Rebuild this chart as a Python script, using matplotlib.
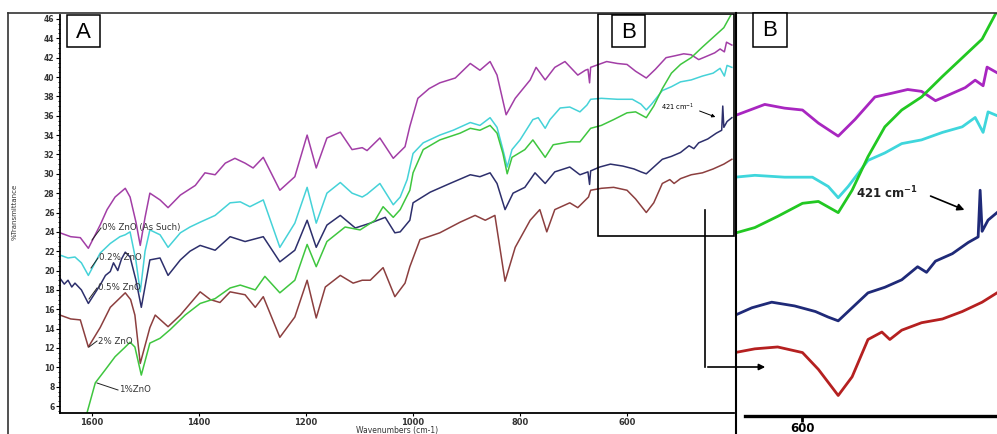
import numpy as np
import matplotlib
matplotlib.use('Agg')
import matplotlib.pyplot as plt
from matplotlib.lines import Line2D
from matplotlib.patches import Rectangle, FancyArrowPatch
from matplotlib.ticker import MultipleLocator

# FTIR spectra: (wavenumber cm-1, %T)
zno_0 = [(1660, 23.9), (1640, 23.5), (1622, 23.4), (1607, 22.3), (1585, 24.7), (1572, 26.3),
         (1557, 27.6), (1538, 28.5), (1529, 27.6), (1518, 25.0), (1510, 22.6), (1501, 25.5),
         (1492, 28.0), (1473, 27.3), (1458, 26.5), (1435, 27.8), (1407, 28.8), (1389, 30.1),
         (1370, 29.9), (1351, 31.1), (1333, 31.6), (1314, 31.1), (1299, 30.6), (1280, 31.7),
         (1249, 28.3), (1221, 29.7), (1198, 34.0), (1181, 30.6), (1161, 33.7), (1136, 34.3),
         (1114, 32.5), (1095, 32.7), (1086, 32.4), (1062, 33.7), (1037, 31.6), (1015, 32.8),
         (1006, 34.9), (991, 37.8), (970, 38.8), (950, 39.4), (921, 39.9), (893, 41.4),
         (875, 40.7), (856, 41.6), (843, 40.2), (826, 36.1), (809, 37.8), (781, 39.7),
         (770, 41.0), (753, 39.7), (735, 41.0), (716, 41.6), (692, 40.2), (678, 40.7),
         (673, 40.8), (670, 39.4), (668, 41.0), (638, 41.6), (618, 41.4), (600, 41.3),
         (584, 40.6), (564, 39.9), (547, 40.8), (527, 42.0), (510, 42.2), (494, 42.4),
         (480, 42.3), (466, 41.8), (453, 42.1), (436, 42.5), (426, 42.9), (418, 42.6),
         (414, 43.6), (404, 43.3)]

zno_02 = [(1660, 21.6), (1645, 21.3), (1632, 21.4), (1620, 20.8), (1607, 19.5), (1585, 21.8),
          (1566, 22.8), (1548, 23.5), (1538, 23.7), (1529, 24.0), (1518, 21.0), (1510, 17.8),
          (1501, 22.0), (1492, 24.2), (1473, 23.7), (1458, 22.4), (1435, 23.9), (1417, 24.5),
          (1398, 25.0), (1370, 25.7), (1342, 27.0), (1323, 27.1), (1305, 26.6), (1280, 27.3),
          (1249, 22.4), (1221, 24.9), (1198, 28.6), (1181, 24.9), (1161, 28.0), (1136, 29.1),
          (1114, 28.0), (1095, 27.6), (1086, 27.9), (1062, 29.0), (1037, 26.8), (1024, 27.6),
          (1011, 29.4), (1000, 32.1), (981, 33.2), (950, 34.0), (925, 34.5), (893, 35.3),
          (875, 35.0), (856, 35.8), (843, 34.8), (832, 32.5), (824, 30.7), (815, 32.5),
          (800, 33.5), (776, 35.6), (766, 35.8), (753, 34.7), (744, 35.6), (725, 36.8),
          (707, 36.9), (688, 36.4), (675, 37.1), (668, 37.7), (648, 37.8), (618, 37.7),
          (590, 37.7), (574, 37.2), (564, 36.6), (554, 37.2), (534, 38.6), (517, 39.0),
          (500, 39.5), (480, 39.7), (459, 40.1), (439, 40.4), (426, 40.9), (418, 40.1),
          (413, 41.2), (404, 41.0)]

zno_05 = [(1660, 19.2), (1652, 18.6), (1645, 19.0), (1638, 18.3), (1632, 18.7), (1620, 18.0),
          (1607, 16.6), (1585, 18.5), (1575, 19.5), (1566, 19.9), (1560, 20.8), (1552, 20.0),
          (1545, 21.2), (1538, 21.9), (1529, 21.4), (1518, 19.0), (1508, 16.2), (1492, 21.1),
          (1473, 21.3), (1458, 19.5), (1435, 21.1), (1417, 22.0), (1398, 22.6), (1370, 22.1),
          (1342, 23.5), (1314, 23.0), (1280, 23.5), (1249, 20.9), (1221, 22.1), (1198, 25.2),
          (1181, 22.4), (1161, 24.7), (1136, 25.7), (1108, 24.4), (1080, 24.9), (1052, 25.5),
          (1034, 23.9), (1024, 24.0), (1006, 25.2), (1000, 27.0), (968, 28.1), (931, 29.0),
          (893, 29.9), (875, 29.7), (856, 30.1), (843, 29.0), (828, 26.3), (813, 28.0),
          (791, 28.6), (772, 30.1), (753, 29.0), (735, 30.2), (707, 30.7), (688, 29.9),
          (673, 30.2), (670, 28.9), (668, 30.3), (651, 30.7), (631, 31.0), (608, 30.8),
          (587, 30.5), (574, 30.2), (564, 30.0), (550, 30.7), (534, 31.5), (517, 31.8),
          (500, 32.2), (484, 32.9), (475, 32.6), (466, 33.2), (449, 33.6), (433, 34.2),
          (423, 34.5), (421, 37.0), (419, 34.8), (413, 35.4), (404, 35.8)]

zno_2 = [(1660, 15.4), (1640, 15.0), (1622, 14.9), (1607, 12.1), (1585, 14.1), (1566, 16.2),
         (1538, 17.7), (1528, 17.0), (1520, 15.4), (1510, 10.4), (1492, 14.1), (1482, 15.4),
         (1458, 14.2), (1435, 15.4), (1398, 17.8), (1379, 17.0), (1361, 16.7), (1342, 17.8),
         (1314, 17.5), (1295, 16.2), (1280, 17.3), (1249, 13.1), (1221, 15.2), (1198, 19.0),
         (1181, 15.1), (1164, 18.3), (1136, 19.5), (1112, 18.7), (1095, 19.0), (1080, 19.0),
         (1056, 20.3), (1034, 17.3), (1015, 18.7), (1006, 20.4), (987, 23.2), (950, 23.9),
         (912, 25.0), (884, 25.7), (865, 25.2), (847, 25.7), (828, 18.9), (809, 22.4),
         (781, 25.2), (763, 26.3), (750, 24.0), (735, 26.3), (707, 27.0), (692, 26.5),
         (672, 27.6), (668, 28.3), (648, 28.5), (625, 28.6), (600, 28.3), (584, 27.4),
         (564, 26.0), (550, 27.0), (534, 29.0), (520, 29.4), (512, 29.0), (500, 29.5),
         (480, 29.9), (459, 30.1), (439, 30.5), (419, 31.0), (404, 31.5)]

zno_1 = [(1612, 4.8), (1594, 8.4), (1576, 9.7), (1557, 11.1), (1538, 12.1), (1529, 12.6),
         (1520, 12.1), (1508, 9.2), (1492, 12.5), (1473, 13.0), (1454, 13.9), (1426, 15.4),
         (1398, 16.6), (1370, 17.1), (1342, 18.2), (1323, 18.5), (1295, 18.0), (1277, 19.4),
         (1249, 17.7), (1221, 19.0), (1198, 22.7), (1181, 20.4), (1161, 23.0), (1127, 24.5),
         (1099, 24.2), (1071, 25.2), (1056, 26.6), (1037, 25.5), (1024, 26.3), (1006, 28.3),
         (1000, 30.1), (981, 32.5), (950, 33.5), (912, 34.2), (893, 34.7), (875, 34.5),
         (856, 35.0), (843, 34.2), (832, 32.1), (824, 30.0), (815, 31.7), (791, 32.5),
         (776, 33.5), (753, 31.7), (738, 33.0), (707, 33.3), (688, 33.3), (668, 34.7),
         (648, 35.0), (625, 35.6), (600, 36.3), (584, 36.4), (574, 36.1), (564, 35.8),
         (550, 37.0), (534, 38.8), (517, 40.4), (500, 41.3), (480, 42.0), (459, 43.1),
         (439, 44.1), (419, 45.1), (409, 46.1), (404, 46.6)]

series = [zno_0, zno_02, zno_05, zno_2, zno_1]
colors_a = ['#a23ea6', '#45d2d8', '#2d2f6c', '#8c3f3f', '#3fc63f']
colors_b = ['#a826c0', '#3fd6dc', '#1f2a78', '#b52020', '#22c822']

W, H = 997, 434
fig = plt.figure(figsize=(W / 100, H / 100), dpi=100)


def box(x0, y0, x1, y1):
    return [x0 / W, 1 - y1 / H, (x1 - x0) / W, (y1 - y0) / H]


def fp(x, y):
    return (x / W, 1 - y / H)


axA = fig.add_axes(box(60, 15, 734, 413))
axB = fig.add_axes(box(735, 13, 997, 416))

for s, ca, cb in zip(series, colors_a, colors_b):
    d = np.array(s)
    axA.plot(d[:, 0], d[:, 1], color=ca, lw=1.1)
    axB.plot(d[:, 0], d[:, 1], color=cb, lw=2.0)

# panel A axes
axA.set_xlim(1660, 400)
axA.set_ylim(5.28, 46.41)
axA.set_yticks(np.arange(6, 47, 2))
axA.yaxis.set_minor_locator(MultipleLocator(0.5))
axA.set_xticks([1600, 1400, 1200, 1000, 800, 600])
for side in ['top', 'right']:
    axA.spines[side].set_visible(False)
for side in ['left', 'bottom']:
    axA.spines[side].set_linewidth(1.3)
axA.tick_params(axis='y', which='major', length=3, width=0.8, pad=1,
                labelsize=5.5, labelcolor='#333333')
axA.tick_params(axis='y', which='minor', length=1.8, width=0.6)
axA.tick_params(axis='x', length=2.5, width=0.8, pad=1, labelsize=6, labelcolor='#333333')
for lab in axA.get_xticklabels() + axA.get_yticklabels():
    lab.set_fontweight('bold')

# panel B axes
axB.set_xlim(668, 404)
axB.set_ylim(24.9, 46.5)
for side in ['top', 'right', 'left']:
    axB.spines[side].set_visible(False)
axB.spines['bottom'].set_linewidth(2.4)
axB.spines['bottom'].set_bounds(658, 404)
axB.set_yticks([])
axB.set_xticks([600])
axB.tick_params(axis='x', length=4, width=2, pad=0, labelsize=8.5)
for lab in axB.get_xticklabels():
    lab.set_fontweight('bold')

# axis titles
fig.text(*fp(397, 430), 'Wavenumbers (cm-1)', fontsize=5.5, ha='center', va='center', color='#333333')
fig.text(*fp(15, 212), '%Transmittance', fontsize=5, rotation=90, ha='center', va='center', color='#333333')

# frames
frame = dict(color='#333333', lw=1.2, transform=fig.transFigure)
fig.add_artist(Line2D([8 / W, 1], [1 - 13 / H] * 2, **frame))
fig.add_artist(Line2D([8 / W] * 2, [1 - 13 / H, 0], **frame))
fig.add_artist(Line2D([735.5 / W] * 2, [1 - 13 / H, 0], color='black', lw=1.5, transform=fig.transFigure))

# inset box in A and connector to B
fig.add_artist(Rectangle(fp(598, 236), 136 / W, 222 / H, fill=False, ec='black', lw=1.2,
                         transform=fig.transFigure))
fig.add_artist(Line2D([705 / W] * 2, [1 - 210 / H, 1 - 367 / H], color='black', lw=1.2,
                      transform=fig.transFigure))
fig.add_artist(FancyArrowPatch(fp(705, 367), fp(768, 367), transform=fig.transFigure,
                               arrowstyle='-|>', mutation_scale=9, color='black', lw=1.2))

# panel letters
for label, (x0, y0, x1, y1) in [('A', (67, 15, 100, 47)), ('B', (612, 15, 645, 47)),
                                ('B', (753, 13, 787, 47))]:
    fig.add_artist(Rectangle(fp(x0, y1), (x1 - x0) / W, (y1 - y0) / H, fill=True, fc='white',
                             ec='black', lw=1.1, transform=fig.transFigure, zorder=5))
    fig.text(*fp((x0 + x1) / 2, (y0 + y1) / 2 + 1), label, fontsize=16, family='Liberation Sans',
             ha='center', va='center', zorder=6)

# sample labels with leader lines
labels = [('0% ZnO (As Such)', (92, 240), (101, 228)),
          ('0.2% ZnO', (91, 268), (98, 258)),
          ('0.5% ZnO', (89, 299), (97, 288)),
          ('2% ZnO', (89, 347), (97, 341)),
          ('1%ZnO', (97, 383), (118, 390))]
for txt, p0, p1 in labels:
    fig.add_artist(Line2D([p0[0] / W, p1[0] / W], [1 - p0[1] / H, 1 - p1[1] / H],
                          color='#222222', lw=0.7, transform=fig.transFigure))
    fig.text(*fp(p1[0] + 1, p1[1]), txt, fontsize=6.2, ha='left', va='center', color='#333333')

# 421 cm-1 annotations
fig.text(*fp(661, 107), r'421 cm$^{\mathregular{-1}}$', fontsize=4.8, ha='left', va='center')
fig.add_artist(FancyArrowPatch(fp(697, 110), fp(718, 118), transform=fig.transFigure,
                               arrowstyle='-|>', mutation_scale=5, color='black', lw=0.7))
fig.text(*fp(856, 193), r'421 cm$^{\mathregular{-1}}$', fontsize=8.5, fontweight='bold',
         ha='left', va='center', color='#222222')
fig.add_artist(FancyArrowPatch(fp(928, 195), fp(967, 211), transform=fig.transFigure,
                               arrowstyle='-|>', mutation_scale=10, color='black', lw=1.2))

fig.savefig('out.png', dpi=100)
